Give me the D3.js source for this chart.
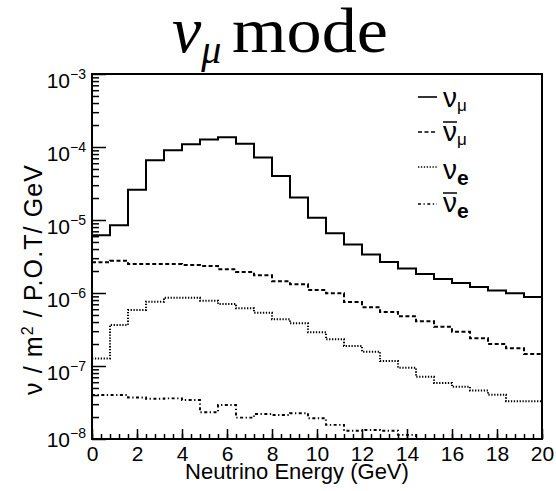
<!DOCTYPE html>
<html lang="en">
<head>
    <script src="https://d3js.org/d3.v7.min.js"></script>
    <meta charset="UTF-8">
    <title>nu_mu mode flux</title>
</head>
<style>
    body{
        margin: 0;
        background: white;
    }
    text{
        font-family: "Liberation Sans", Arial, sans-serif;
        fill: black;
    }
</style>
<body>
    <div id='grafico'></div>
</body>
<script>
    // bin low edges (GeV), last value is the upper edge of the last bin
    var binEdges = [0, 0.8, 1.6, 2.4, 3.2, 4, 4.8, 5.6, 6.4, 7.2, 8, 8.8, 9.6, 10.4, 11.2, 12, 12.8, 13.6, 14.4, 15.2, 16, 16.8, 17.6, 18.4, 19.2, 20]

    var numu = [6.2e-6, 8.5e-6, 2.6e-5, 6.6e-5, 9.0e-5, 1.09e-4, 1.27e-4, 1.36e-4, 1.11e-4, 7.2e-5, 4.0e-5, 2.03e-5, 1.07e-5, 6.6e-6, 4.6e-6, 3.37e-6, 2.66e-6, 2.17e-6, 1.82e-6, 1.56e-6, 1.37e-6, 1.21e-6, 1.08e-6, 9.9e-7, 8.8e-7]
    var numubar = [2.64e-6, 2.77e-6, 2.5e-6, 2.5e-6, 2.5e-6, 2.42e-6, 2.34e-6, 2.11e-6, 1.94e-6, 1.75e-6, 1.45e-6, 1.32e-6, 1.10e-6, 9.9e-7, 7.5e-7, 6.4e-7, 5.5e-7, 4.8e-7, 4.1e-7, 3.45e-7, 2.95e-7, 2.4e-7, 2.0e-7, 1.75e-7, 1.46e-7]
    var nue = [1.27e-7, 3.65e-7, 5.85e-7, 7.6e-7, 8.6e-7, 8.6e-7, 7.85e-7, 7.07e-7, 6.17e-7, 5.37e-7, 4.36e-7, 3.85e-7, 2.9e-7, 2.32e-7, 1.88e-7, 1.57e-7, 1.17e-7, 9.5e-8, 7.1e-8, 5.85e-8, 5.2e-8, 4.6e-8, 4.05e-8, 3.3e-8, 3.3e-8]
    var nuebar = [4.0e-8, 4.0e-8, 3.7e-8, 3.56e-8, 3.6e-8, 3.42e-8, 2.32e-8, 2.92e-8, 1.96e-8, 2.2e-8, 2.13e-8, 2.25e-8, 1.92e-8, 1.56e-8, 1.3e-8, 1.33e-8, 1.3e-8, 1.14e-8, 9e-9, 8e-9, 7e-9, 6e-9, 5e-9, 5e-9, 4e-9]

    var xMajorTicks = [0, 2, 4, 6, 8, 10, 12, 14, 16, 18, 20]
    var yMajorTicks = [1e-3, 1e-4, 1e-5, 1e-6, 1e-7, 1e-8]
    var yExponents = ['\u22123', '\u22124', '\u22125', '\u22126', '\u22127', '\u22128']

    var series = [
        {vals: numu, dash: null, width: 2, sub: '\u03bc', bar: false},
        {vals: numubar, dash: '4,2.5', width: 2, sub: '\u03bc', bar: true},
        {vals: nue, dash: '1.3,1.6', width: 2, sub: 'e', bar: false},
        {vals: nuebar, dash: '3,2.5,1.3,2.5', width: 1.9, sub: 'e', bar: true}
    ]

    var fLeft = 92, fRight = 542, fTop = 74, fBottom = 439

    var svg = d3.select('#grafico')
    .append('svg')
    .attr('width', 556)
    .attr('height', 491)

    var xScale = d3.scaleLinear()
    .domain([0, 20])
    .range([fLeft, fRight])

    var yScale = d3.scaleLog()
    .domain([1e-8, 1e-3])
    .range([fBottom, fTop])

    svg.append('clipPath')
    .attr('id', 'frame')
    .append('rect')
    .attr('x', fLeft)
    .attr('y', fTop)
    .attr('width', fRight - fLeft)
    .attr('height', fBottom - fTop)

    // histograms
    var step = d3.line()
    .x(d => xScale(d[0]))
    .y(d => yScale(d[1]))
    .curve(d3.curveStepAfter)

    series.forEach(s => {
        var pts = s.vals.map((v, i) => [binEdges[i], v])
        pts.push([binEdges[binEdges.length - 1], s.vals[s.vals.length - 1]])
        svg.append('path')
        .attr('d', step(pts))
        .attr('fill', 'none')
        .attr('stroke', 'black')
        .attr('stroke-width', s.width)
        .attr('stroke-dasharray', s.dash)
        .attr('clip-path', 'url(#frame)')
    })

    // x axis, minor then major ticks pointing inward
    var xMinor = d3.range(0, 20.01, 0.4)
    svg.append('g')
    .attr('transform', `translate(0, ${fBottom})`)
    .call(d3.axisBottom(xScale).tickValues(xMinor).tickFormat('').tickSizeInner(-5).tickSizeOuter(0))
    .call(g => g.select('.domain').remove())
    .call(g => g.selectAll('line').attr('stroke-width', 1.5))

    svg.append('g')
    .attr('transform', `translate(0, ${fBottom})`)
    .call(d3.axisBottom(xScale).tickValues(xMajorTicks).tickFormat(d3.format('d')).tickSizeInner(-10).tickSizeOuter(0).tickPadding(7))
    .call(g => g.select('.domain').remove())
    .call(g => g.selectAll('text').style('font-size', '21px').style('font-family', '"Liberation Sans", Arial, sans-serif'))
    .call(g => g.selectAll('line').attr('stroke-width', 1.5))

    // y axis
    var yMinor = []
    yMajorTicks.slice(1).forEach(d => {
        for (var k = 2; k < 10; k++) yMinor.push(d * k)
    })
    svg.append('g')
    .attr('transform', `translate(${fLeft}, 0)`)
    .call(d3.axisLeft(yScale).tickValues(yMinor).tickFormat('').tickSizeInner(-7).tickSizeOuter(0))
    .call(g => g.select('.domain').remove())
    .call(g => g.selectAll('line').attr('stroke-width', 1.5))

    svg.append('g')
    .attr('transform', `translate(${fLeft}, 0)`)
    .call(d3.axisLeft(yScale).tickValues(yMajorTicks).tickFormat('').tickSizeInner(-14).tickSizeOuter(0))
    .call(g => g.select('.domain').remove())
    .call(g => g.selectAll('line').attr('stroke-width', 1.5))

    var yLab = svg.append('g').selectAll('text')
    .data(yMajorTicks)
    .enter()
    .append('text')
    .attr('x', 86)
    .attr('y', (d, i) => yScale(d) + (i == yMajorTicks.length - 1 ? 8 : 14))
    .attr('text-anchor', 'end')
    .style('font-size', '21px')
    yLab.append('tspan').text('10')
    yLab.append('tspan')
    .attr('dy', -9)
    .style('font-size', '14px')
    .text((d, i) => yExponents[i])

    // frame
    svg.append('rect')
    .attr('x', fLeft)
    .attr('y', fTop)
    .attr('width', fRight - fLeft)
    .attr('height', fBottom - fTop)
    .attr('fill', 'none')
    .attr('stroke', 'black')
    .attr('stroke-width', 2)

    // axis titles
    svg.append('text')
    .attr('x', 297)
    .attr('y', 479)
    .attr('text-anchor', 'middle')
    .style('font-size', '22px')
    .text('Neutrino Energy (GeV)')

    var yt = svg.append('text')
    .attr('transform', 'translate(42, 280) rotate(-90)')
    .attr('text-anchor', 'middle')
    .attr('textLength', 230)
    .attr('lengthAdjust', 'spacing')
    .style('font-size', '25px')
    yt.append('tspan').text('\u03bd / m')
    yt.append('tspan').attr('dy', -9).style('font-size', '16px').text('2')
    yt.append('tspan').attr('dy', 9).text(' / P.O.T/ GeV')

    // title
    var title = svg.append('text')
    .attr('x', 172)
    .attr('y', 52)
    .style('font-family', '"Liberation Serif", "Times New Roman", serif')
    title.append('tspan').style('font-size', '66px').style('font-style', 'italic').text('\u03bd')
    title.append('tspan').attr('dy', 11).style('font-size', '40px').style('font-style', 'italic').text('\u03bc')
    title.append('tspan').attr('x', 232).attr('dy', -11).style('font-size', '64px')
    .attr('textLength', 156).attr('lengthAdjust', 'spacingAndGlyphs').text('mode')

    // legend
    var legLineY = [97, 132, 167, 204]
    var legTextY = [107, 141, 179, 212]
    series.forEach((s, i) => {
        svg.append('line')
        .attr('x1', 418)
        .attr('x2', 437)
        .attr('y1', legLineY[i])
        .attr('y2', legLineY[i])
        .attr('stroke', 'black')
        .attr('stroke-width', 1.6)
        .attr('stroke-dasharray', s.dash)

        var t = svg.append('text')
        .attr('x', 443)
        .attr('y', legTextY[i])
        var nu = t.append('tspan').style('font-size', '28px').text('\u03bd')
        if (s.sub == 'e') {
            t.append('tspan').attr('dy', 6).style('font-size', '21px').style('font-weight', 'bold').text('e')
        } else {
            t.append('tspan').attr('dy', 4).style('font-size', '17px').text('\u03bc')
        }
        if (s.bar) {
            var w = nu.node().getComputedTextLength()
            svg.append('line')
            .attr('x1', 443)
            .attr('x2', 443 + w)
            .attr('y1', legTextY[i] - 19)
            .attr('y2', legTextY[i] - 19)
            .attr('stroke', 'black')
            .attr('stroke-width', 1.5)
        }
    })
</script>
</html>
